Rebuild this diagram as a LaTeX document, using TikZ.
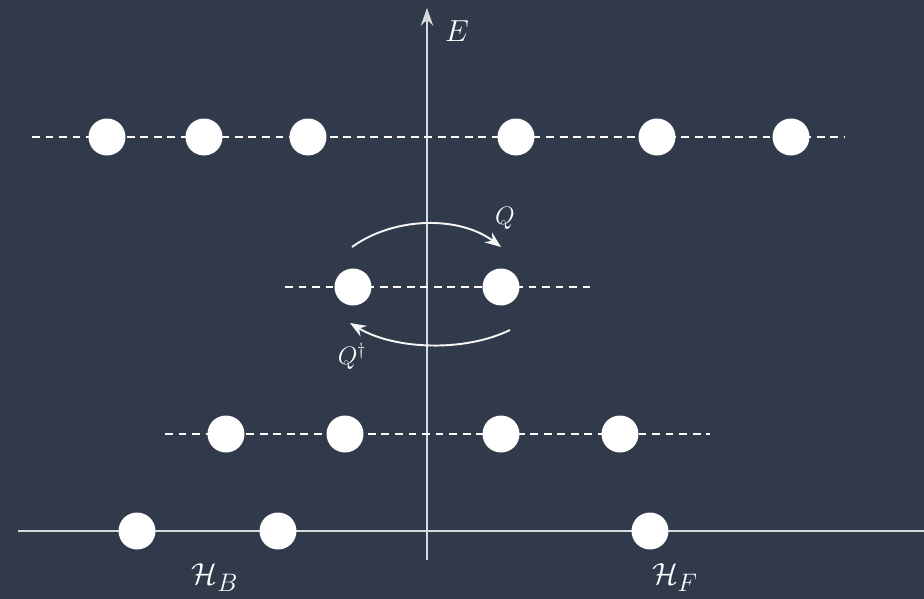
\documentclass[tikz,border=0pt]{standalone}
\usepackage{amsmath,amssymb}
\usepackage{xcolor}
\usetikzlibrary{arrows.meta}

\definecolor{board}{RGB}{48,58,74}
\definecolor{chalk}{RGB}{245,245,245}

\begin{document}
\begin{tikzpicture}[
    x=0.02cm, y=-0.02cm,
    state/.style={circle, fill=white, inner sep=0pt, minimum size=0.74cm},
    level/.style={white, dash pattern=on 4.5pt off 3.2pt, line width=0.9pt},
    axis/.style={chalk!85!board, line width=1.4pt},
    susy/.style={chalk, line width=1.1pt, -{Stealth[length=9pt, width=7pt]}},
    lbl/.style={text=white, inner sep=0pt}
]

% Board
\fill[board] (0,0) rectangle (924,599);
\useasboundingbox (0,0) rectangle (924,599);

% Axes
\coordinate (xl) at (18,531);
\coordinate (xr) at (924,531);
\coordinate (yb) at (427,560);
\coordinate (yt) at (427,8);
\draw[axis] (xl) -- (xr);
\draw[axis, -{Stealth[length=10pt, width=7pt]}] (yb) -- (yt);
\node[lbl, font=\fontsize{19}{21}\selectfont] (E) at (457,31) {$E$};

% Energy levels
\coordinate (l1a) at (32,137);  \coordinate (l1b) at (845,137);
\coordinate (l2a) at (285,287); \coordinate (l2b) at (590,287);
\coordinate (l3a) at (165,434); \coordinate (l3b) at (710,434);
\draw[level] (l1a) -- (l1b);
\draw[level] (l2a) -- (l2b);
\draw[level] (l3a) -- (l3b);

% States
\foreach \x [count=\i] in {107,204,308,516,657,791}
    \node[state] (t\i) at (\x,137) {};
\node[state] (m1) at (353,287) {};
\node[state] (m2) at (501,287) {};
\foreach \x [count=\i] in {226,345,501,620}
    \node[state] (d\i) at (\x,434) {};
\foreach \x [count=\i] in {137,278,650}
    \node[state] (g\i) at (\x,531) {};

% Supercharges
\coordinate (qa) at (352,247);
\coordinate (qb) at (501,247);
\coordinate (pa) at (510,330);
\coordinate (pb) at (350,323);
\draw[susy] (qa) .. controls (395,216) and (460,216) .. (qb);
\draw[susy] (pa) .. controls (465,352) and (395,350) .. (pb);
\node[lbl, font=\fontsize{14}{16}\selectfont] (Q) at (505,218) {$Q$};
\node[lbl, font=\fontsize{14}{16}\selectfont] (Qd) at (352,356) {$Q^\dagger$};

% Hilbert spaces
\node[lbl, font=\fontsize{19}{21}\selectfont] (HB) at (215,578) {$\mathcal{H}_B$};
\node[lbl, font=\fontsize{19}{21}\selectfont] (HF) at (675,578) {$\mathcal{H}_F$};

\end{tikzpicture}
\end{document}
